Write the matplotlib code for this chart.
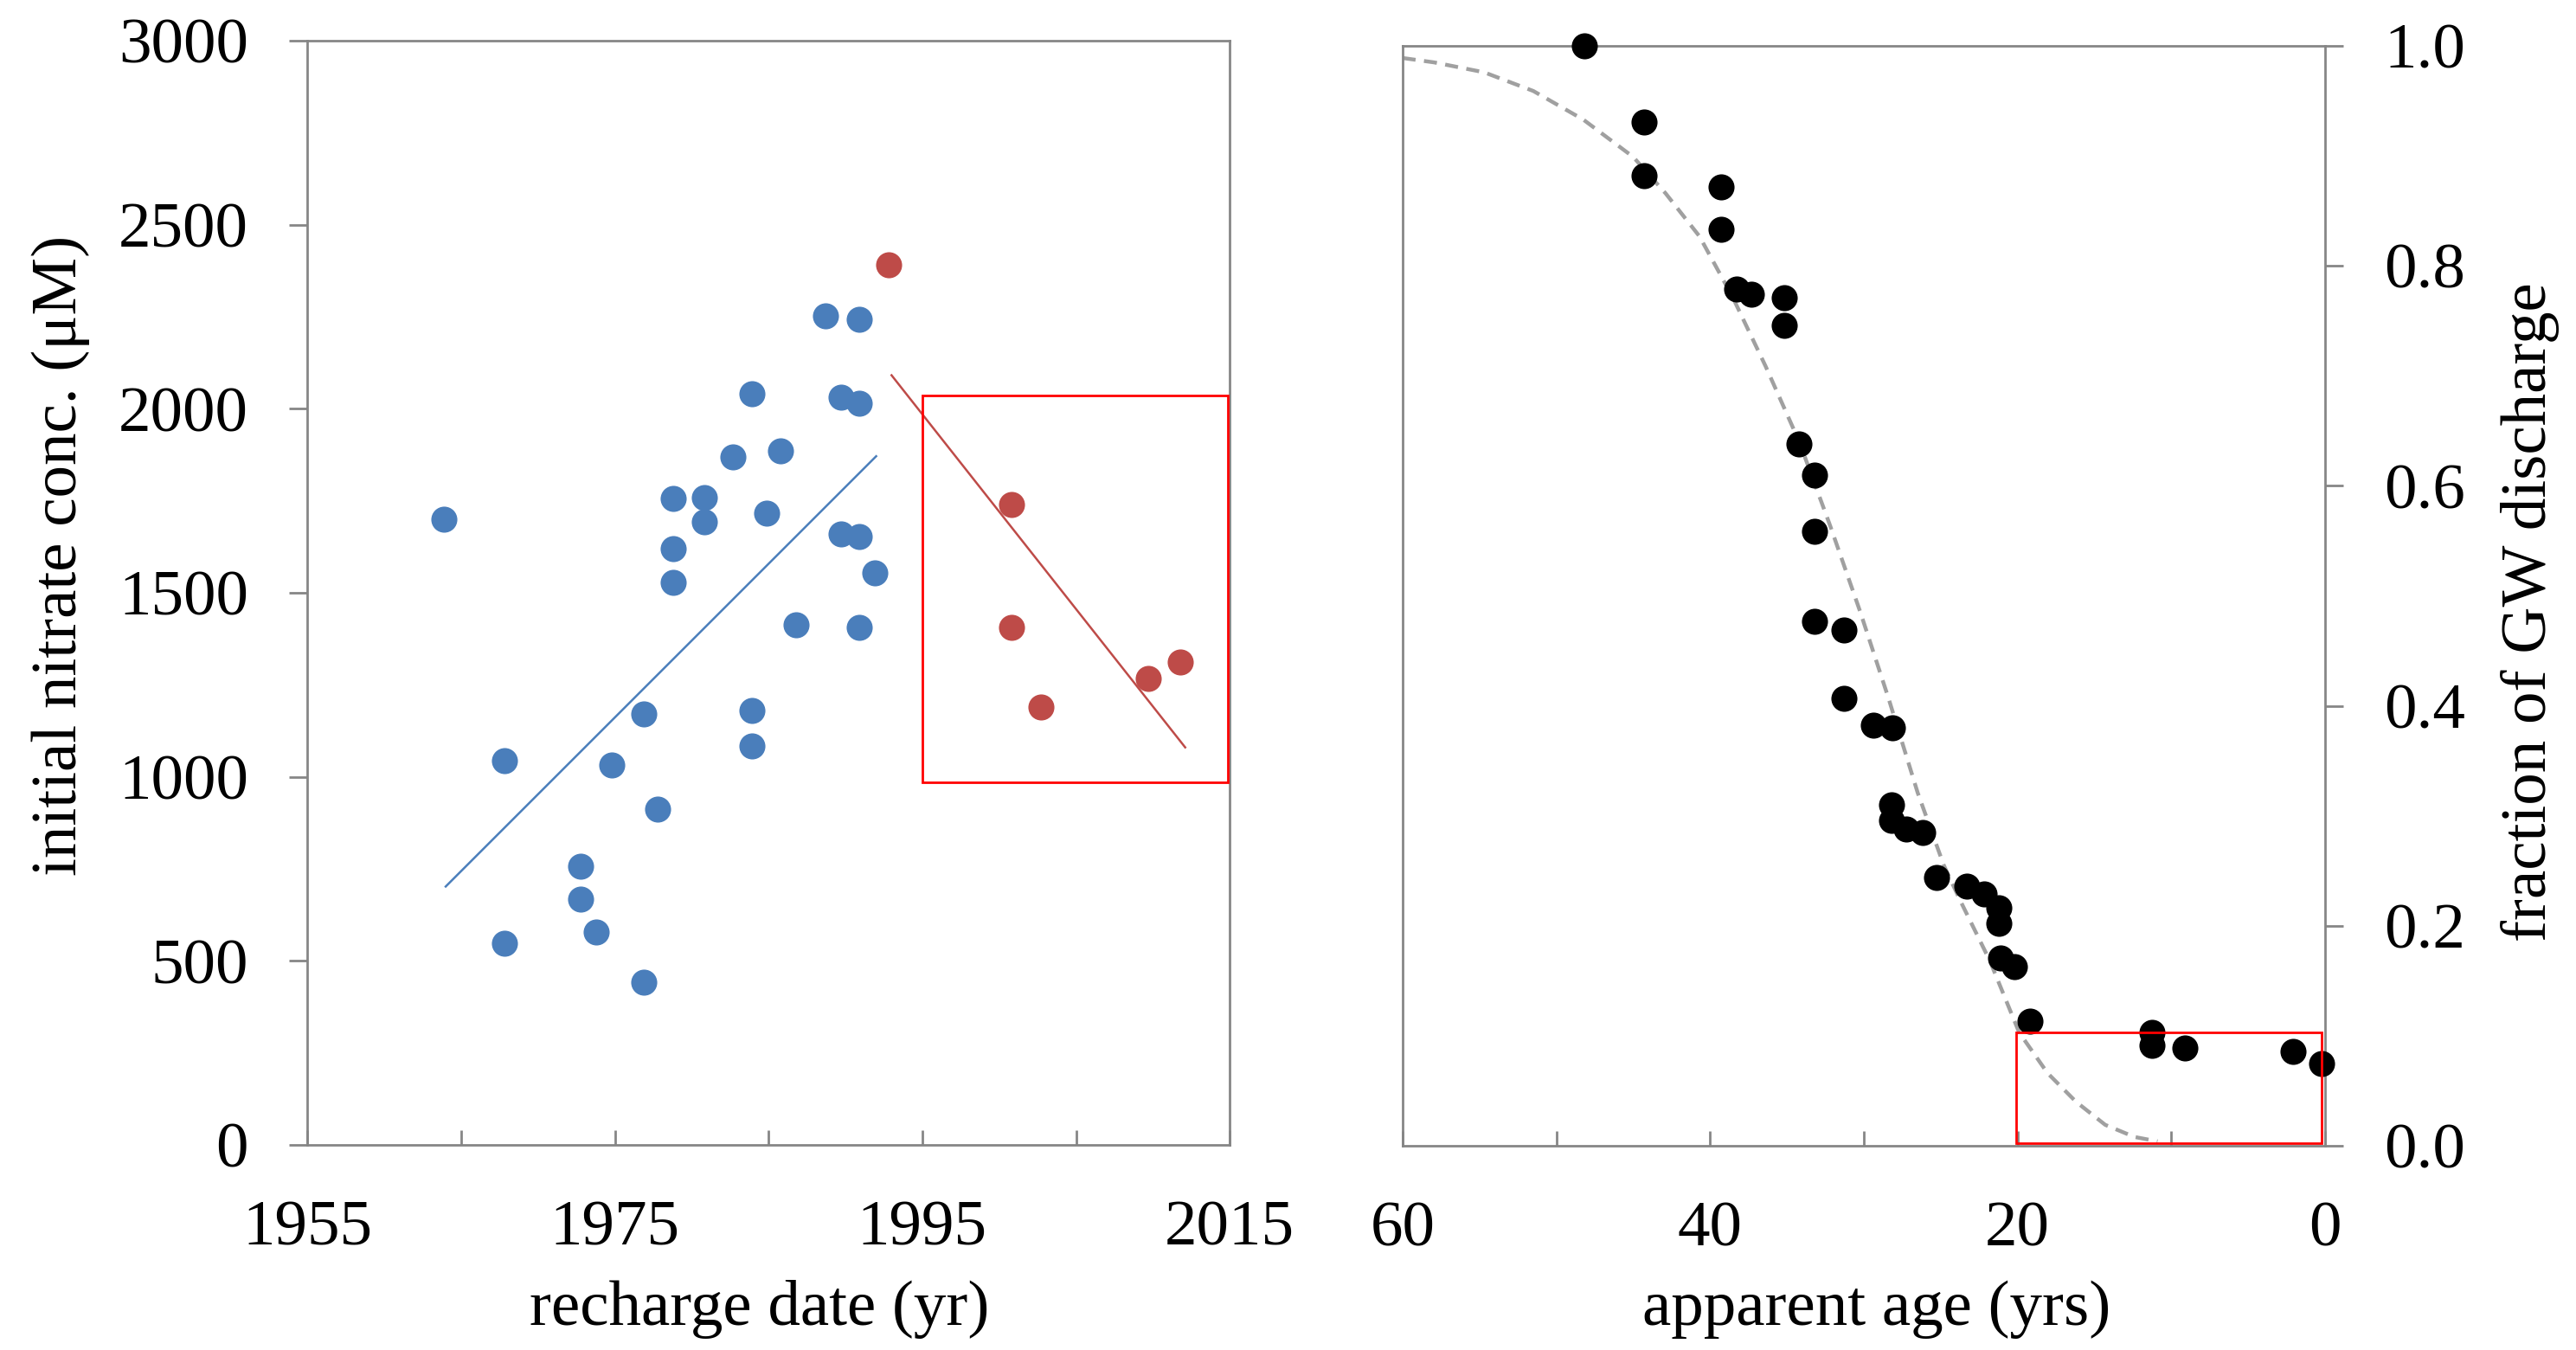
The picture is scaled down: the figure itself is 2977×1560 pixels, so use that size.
import matplotlib
matplotlib.use("Agg")
import matplotlib.pyplot as plt
from matplotlib.patches import Rectangle

# ---- left panel: initial nitrate vs recharge date ----
blue_year = [1963.9, 1967.8, 1967.8, 1972.8, 1972.8, 1973.8, 1974.8, 1976.9, 1976.9,
             1977.8, 1978.8, 1978.8, 1978.8, 1980.8, 1980.8, 1982.7, 1983.9, 1983.9,
             1983.9, 1984.9, 1985.8, 1986.8, 1988.7, 1990.9, 1989.7, 1990.9, 1989.7,
             1990.9, 1991.9, 1990.9]
blue_no3 = [1700, 1043, 547, 758, 667, 578, 1033, 1172, 441,
            913, 1756, 1619, 1528, 1759, 1693, 1870, 2041, 1180,
            1083, 1716, 1886, 1414, 2252, 2244, 2031, 2015, 1660,
            1652, 1553, 1406]

red_year = [1992.8, 2000.8, 2000.8, 2002.7, 2009.7, 2011.8]
red_no3 = [2391, 1739, 1406, 1190, 1268, 1311]

blue_fit_year = [1964.0, 1992.0]
blue_fit_no3 = [702, 1871]
red_fit_year = [1993.0, 2012.1]
red_fit_no3 = [2091, 1080]

left_box = (1995.0, 985, 19.9, 1050)   # x, y, width, height

left_xticks = [1955, 1965, 1975, 1985, 1995, 2005, 2015]
left_xlabels = ["1955", "", "1975", "", "1995", "", "2015"]
left_yticks = [0, 500, 1000, 1500, 2000, 2500, 3000]

# ---- right panel: fraction of GW discharge vs apparent age ----
age = [48.2, 44.3, 44.3, 39.3, 39.3, 38.3, 37.3, 35.2, 35.2, 34.2, 33.2, 33.2,
       33.2, 31.3, 31.3, 29.4, 28.15, 28.2, 28.2, 27.25, 26.2, 25.3, 23.3, 22.2,
       21.2, 21.2, 21.1, 20.2, 19.2, 11.25, 11.25, 9.1, 2.1, 0.2]
frac = [1.0, 0.931, 0.882, 0.872, 0.833, 0.779, 0.774, 0.771, 0.746, 0.638, 0.610, 0.559,
        0.477, 0.469, 0.407, 0.382, 0.380, 0.310, 0.296, 0.288, 0.285, 0.244, 0.236, 0.229,
        0.216, 0.202, 0.171, 0.163, 0.113, 0.103, 0.091, 0.089, 0.086, 0.075]

curve_age = [60.0, 57.95, 54.7, 51.5, 48.25, 45.0, 42.9, 40.7, 38.55, 36.4, 34.2, 32.2,
             30.25, 28.4, 26.5, 24.8, 23.7, 21.8, 19.9, 18.05, 16.2, 14.3, 12.4, 10.9]
curve_frac = [0.989, 0.985, 0.976, 0.959, 0.933, 0.899, 0.866, 0.827, 0.772, 0.709, 0.640, 0.564,
              0.486, 0.407, 0.321, 0.255, 0.222, 0.168, 0.103, 0.066, 0.040, 0.019, 0.008, 0.004]

right_box = (0.24, 0.0024, 19.83, 0.1004)

right_xticks = [60, 50, 40, 30, 20, 10, 0]
right_xlabels = ["60", "", "40", "", "20", "", "0"]
right_yticks = [0.0, 0.2, 0.4, 0.6, 0.8, 1.0]
right_ylabels = ["0.0", "0.2", "0.4", "0.6", "0.8", "1.0"]

plt.rcParams['font.family'] = ['Liberation Serif', 'DejaVu Serif']
FS = 54
GREY = '#868686'
BLUE = '#4a7ebb'
RED = '#be4b48'

fig = plt.figure(figsize=(29.77, 15.6), dpi=100)
ax1 = fig.add_axes([0.1193, 0.1519, 0.3581, 0.8180])
ax2 = fig.add_axes([0.5445, 0.1513, 0.3581, 0.8147])


def style_axes(ax):
    for s in ax.spines.values():
        s.set_color(GREY)
        s.set_linewidth(2)
    ax.tick_params(axis='both', colors=GREY, width=2, labelcolor='black',
                   labelsize=FS)
    ax.tick_params(axis='x', direction='in', length=12, pad=46)
    ax.tick_params(axis='y', direction='out', length=15, pad=34)


# left panel
style_axes(ax1)
ax1.plot(blue_fit_year, blue_fit_no3, color=BLUE, lw=1.8, zorder=2)
ax1.plot(red_fit_year, red_fit_no3, color=RED, lw=1.8, zorder=2)
ax1.scatter(blue_year, blue_no3, s=470, color=BLUE, lw=0, zorder=3, clip_on=False)
ax1.scatter(red_year, red_no3, s=470, color=RED, lw=0, zorder=3, clip_on=False)
ax1.add_patch(Rectangle(left_box[:2], left_box[2], left_box[3], fill=False,
                        edgecolor='#ff0000', lw=2, zorder=4))
ax1.set_xlim(1955, 2015)
ax1.set_ylim(0, 3000)
ax1.set_xticks(left_xticks)
ax1.set_xticklabels(left_xlabels)
ax1.set_yticks(left_yticks)
ax1.set_xlabel("recharge date (yr)", fontsize=FS)
ax1.set_ylabel("initial nitrate conc. (\u03bcM)", fontsize=FS)
ax1.xaxis.set_label_coords(0.49, -0.149)
ax1.yaxis.set_label_coords(-0.267, 0.534)
ax1.xaxis.label.set_va('center')
ax1.yaxis.label.set_va('center')

# right panel
style_axes(ax2)
ax2.yaxis.tick_right()
ax2.yaxis.set_label_position('right')
ax2.plot(curve_age, curve_frac, color='#a0a0a0', lw=3.2, ls=(0, (3.4, 2.2)), zorder=2)
ax2.scatter(age, frac, s=470, color='black', lw=0, zorder=3, clip_on=False)
ax2.add_patch(Rectangle(right_box[:2], right_box[2], right_box[3], fill=False,
                        edgecolor='#ff0000', lw=2, zorder=4))
ax2.set_xlim(60, 0)
ax2.set_ylim(0, 1.0)
ax2.set_xticks(right_xticks)
ax2.set_xticklabels(right_xlabels)
ax2.set_yticks(right_yticks)
ax2.set_yticklabels(right_ylabels)
ax2.set_xlabel("apparent age (yrs)", fontsize=FS)
ax2.set_ylabel("fraction of GW discharge", fontsize=FS, rotation=90)
ax2.xaxis.set_label_coords(0.514, -0.149)
ax2.yaxis.set_label_coords(1.222, 0.485)
ax2.xaxis.label.set_va('center')
ax2.yaxis.label.set_va('center')

fig.savefig("out.png", dpi=100)
